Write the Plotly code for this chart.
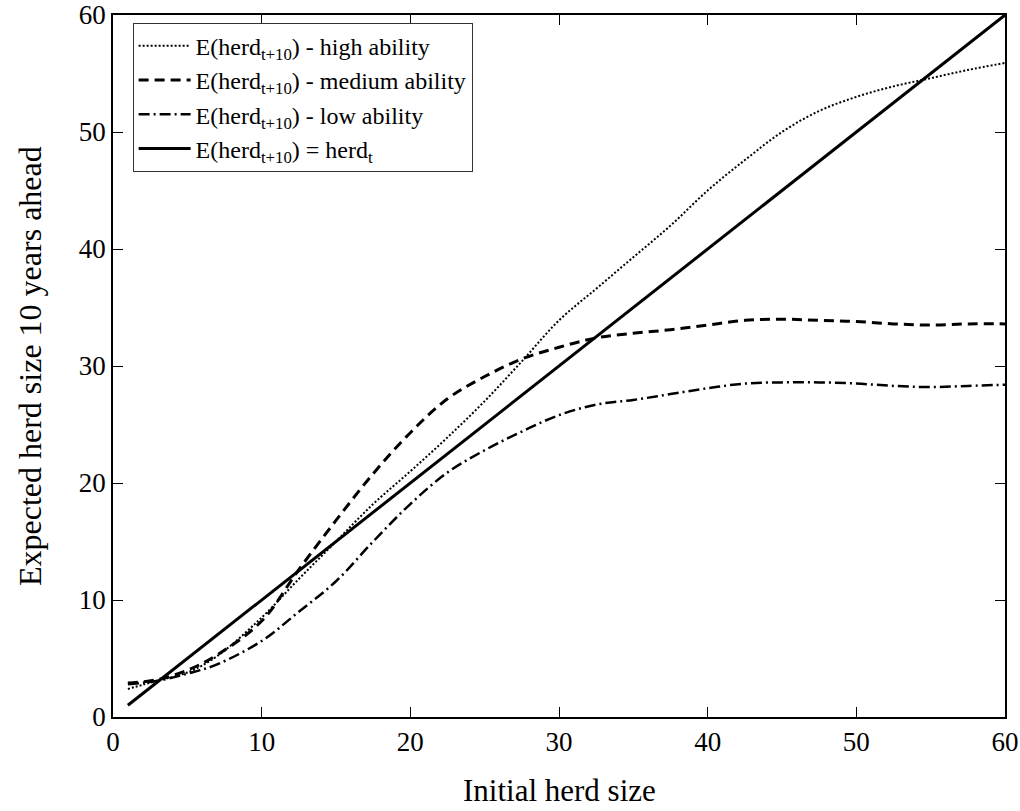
import plotly.graph_objects as go

x_pts = [1, 3, 5, 7, 10, 12.5, 15, 17.5, 20, 22.5, 25, 27.5, 30, 32.5, 35, 37.5, 40,
         42.5, 45, 47.5, 50, 52.5, 55, 57.5, 60]
high = [2.4, 3.1, 3.8, 5.2, 8.5, 11.8, 15.0, 18.2, 21.0, 23.9, 27.0, 30.4, 33.9, 36.6,
        39.3, 42.0, 45.0, 47.6, 50.0, 51.8, 53.0, 53.9, 54.6, 55.3, 55.9]
medium = [2.9, 3.2, 4.0, 5.3, 8.2, 12.6, 16.8, 20.8, 24.3, 27.2, 29.1, 30.6, 31.6, 32.4,
          32.8, 33.1, 33.5, 33.9, 34.0, 33.9, 33.8, 33.6, 33.5, 33.6, 33.6]
low = [2.8, 3.1, 3.7, 4.5, 6.5, 9.0, 11.6, 15.0, 18.2, 20.9, 22.8, 24.4, 25.8, 26.7,
       27.1, 27.6, 28.1, 28.5, 28.6, 28.6, 28.5, 28.3, 28.2, 28.3, 28.4]
x_diag = [1, 60]
y_diag = [1, 60]
tick_vals = [0, 10, 20, 30, 40, 50, 60]

font_family = "Liberation Serif"

fig = go.Figure()
fig.add_trace(go.Scatter(x=x_pts, y=high, mode="lines", line_shape="spline",
                         line=dict(color="black", width=2, dash="2px,2px"),
                         name="E(herd<sub>t+10</sub>) - high ability"))
fig.add_trace(go.Scatter(x=x_pts, y=medium, mode="lines", line_shape="spline",
                         line=dict(color="black", width=3, dash="10px,6px"),
                         name="E(herd<sub>t+10</sub>) - medium ability"))
fig.add_trace(go.Scatter(x=x_pts, y=low, mode="lines", line_shape="spline",
                         line=dict(color="black", width=2.5, dash="11px,4px,2px,4px"),
                         name="E(herd<sub>t+10</sub>) - low ability"))
fig.add_trace(go.Scatter(x=x_diag, y=y_diag, mode="lines",
                         line=dict(color="black", width=3),
                         name="E(herd<sub>t+10</sub>) = herd<sub>t</sub>"))

axis_common = dict(
    showgrid=False, zeroline=False, showline=True, linecolor="black", linewidth=1.5,
    mirror="allticks", ticks="inside", ticklen=10, tickwidth=1.2, tickcolor="black",
    tickfont=dict(family=font_family, size=27, color="black"),
    automargin=False, range=[0, 60], tickvals=tick_vals,
)

fig.update_layout(
    width=1020, height=811,
    margin=dict(l=113, r=15, t=15, b=94),
    paper_bgcolor="white", plot_bgcolor="white",
    font=dict(family=font_family, color="black"),
    showlegend=True,
    legend=dict(x=0.022, y=0.989, xanchor="left", yanchor="top",
                bgcolor="white", bordercolor="#333333", borderwidth=1,
                font=dict(family=font_family, size=24, color="black"),
                tracegroupgap=0, itemwidth=52),
    xaxis=dict(**axis_common),
    yaxis=dict(**axis_common),
    annotations=[
        dict(text="Initial herd size", xref="paper", yref="paper", x=0.5, y=-0.132,
             xanchor="center", yanchor="bottom", showarrow=False,
             font=dict(family=font_family, size=31, color="black")),
        dict(text="Expected herd size 10 years ahead", xref="paper", yref="paper",
             x=-0.093, y=0.5, xanchor="center", yanchor="middle", textangle=-90,
             showarrow=False, font=dict(family=font_family, size=32, color="black")),
    ],
)

fig.write_html("out.html")
